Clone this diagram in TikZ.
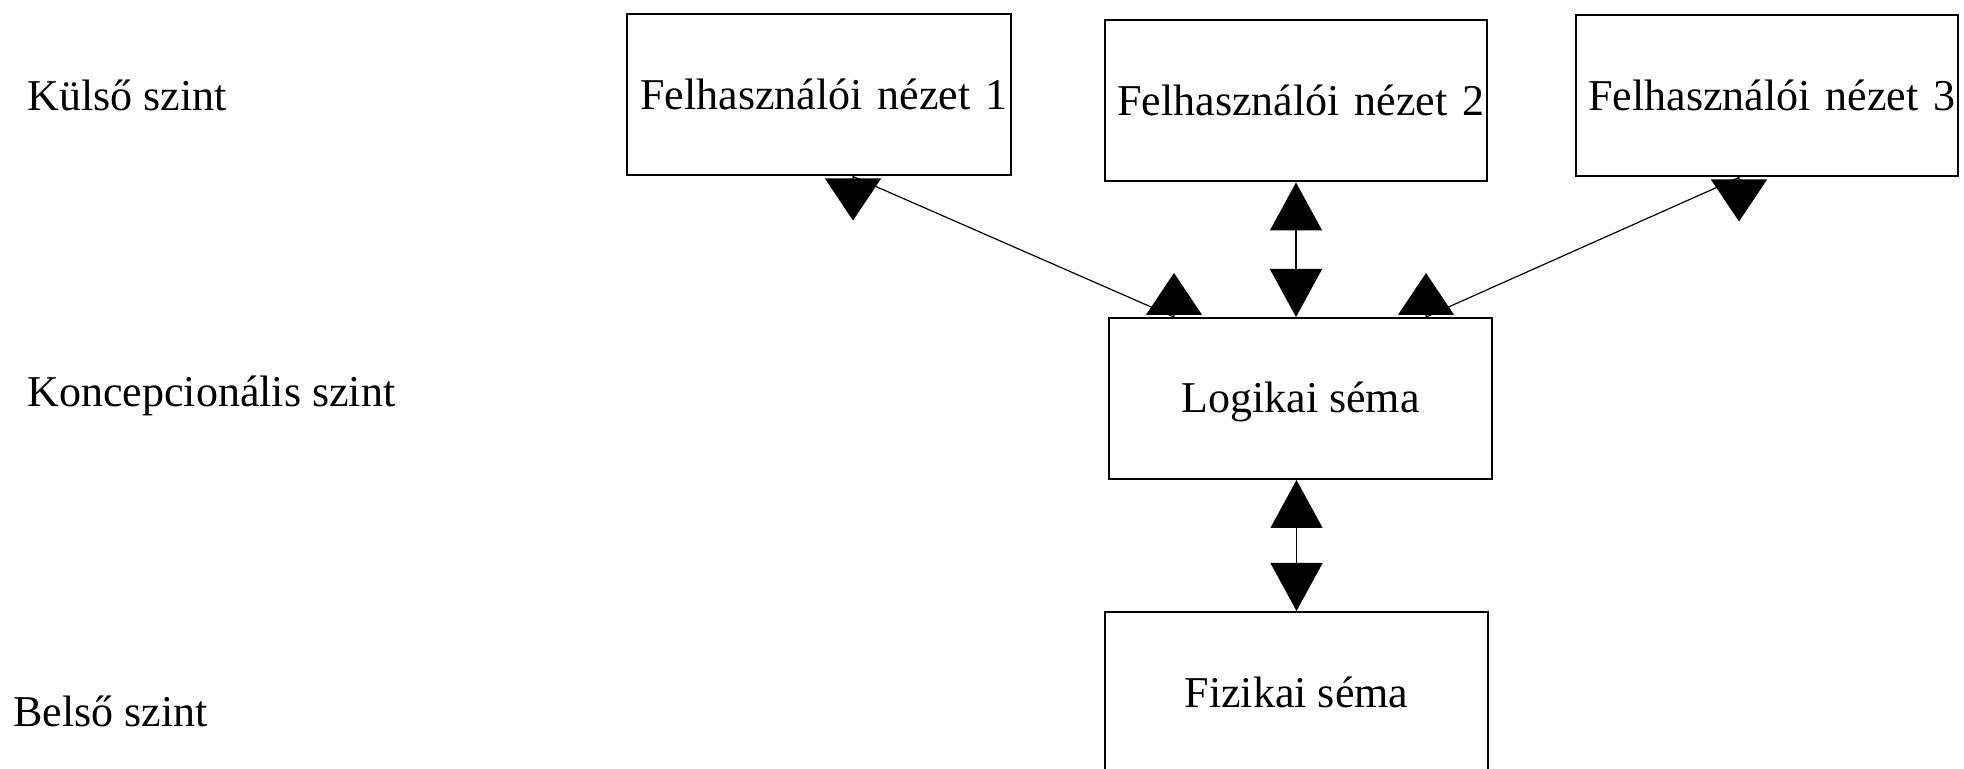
\documentclass[tikz,border=0pt]{standalone}
\usepackage{fontspec}
\setmainfont{Liberation Serif}
\usetikzlibrary{positioning,arrows.meta,calc}

\begin{document}
\begin{tikzpicture}[x=0.5pt,y=-0.5pt,font=\fontsize{22}{26}\selectfont,
  bx/.style={draw=black,line width=1pt,minimum width=191.5pt,minimum height=80.5pt,text height=14.5pt,text depth=0pt,inner sep=1.5pt},
  vw/.style={bx,text width=188pt,align=right},
  lvl/.style={anchor=base west,inner sep=0pt},
  ar/.style={{Triangle[length=24pt,width=26pt]}-{Triangle[length=24pt,width=26pt]},line width=0.7pt},
  dg/.style={{Triangle[length=21pt,width=28pt]}-{Triangle[length=21pt,width=28pt]},line width=0.6pt}]
  \path[use as bounding box,fill=white] (0,0) rectangle (1964,769);
  \clip (0,0) rectangle (1964,769);
  % levels
  \node[lvl] (kul) at (27,111) {Külső szint};
  \node[lvl] (kon) at (27,407) {Koncepcionális szint};
  \node[lvl] (bel) at (13,726) {Belső szint};
  % views
  \node[vw,minimum width=192pt] (v1) at (819,95) {Felhasználói nézet 1};
  \node[vw,minimum width=191pt] (v2) at (1296,101) {Felhasználói nézet 2};
  \node[vw,minimum width=190pt,text width=188pt] (v3) at (1767,96) {Felhasználói nézet 3};
  % schemas
  \node[bx] (lg) at (1300.5,398.5) {Logikai séma};
  \node[bx] (fz) at (1296.5,692.5) {Fizikai séma};
  % connectors
  \draw[ar] (v2.south) -- (v2.south |- lg.north);
  \draw[ar] (lg.south -| fz.north) -- (fz.north);
  \coordinate (b1) at ($(v1.south west)+(227,0)$);
  \coordinate (b2) at ($(lg.north west)+(66,0)$);
  \coordinate (b3) at ($(v3.south west)+(164,0)$);
  \coordinate (b4) at ($(lg.north east)+(-67,0)$);
  \draw[dg] ($(b1)+(0,44)$) -- (b1) -- (b2) -- ($(b2)+(0,-44)$);
  \draw[dg] ($(b3)+(0,44)$) -- (b3) -- (b4) -- ($(b4)+(0,-44)$);
\end{tikzpicture}
\end{document}
